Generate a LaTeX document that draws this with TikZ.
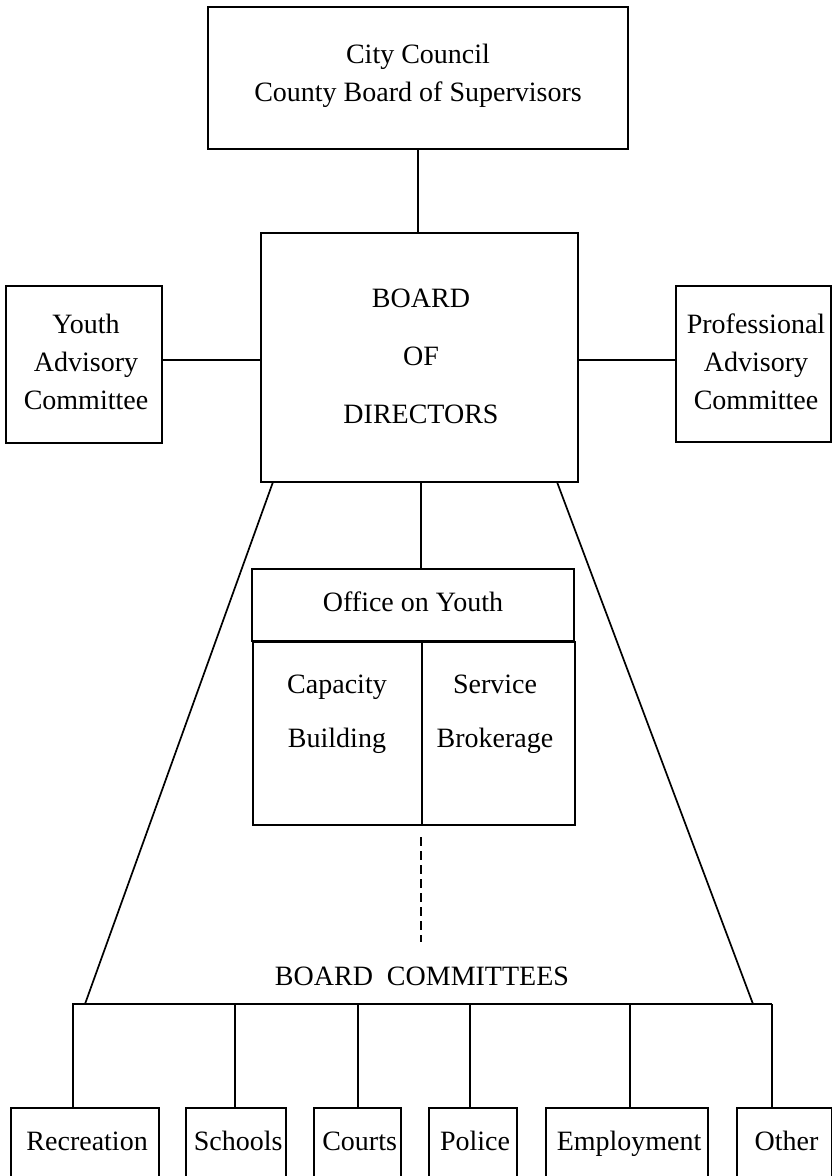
\documentclass[tikz,border=0pt]{standalone}
\usepackage{fontspec}
\setmainfont{Liberation Serif}
\usetikzlibrary{calc}
\begin{document}
\begin{tikzpicture}[x=1pt,y=-1pt,
  box/.style={draw, line width=2.2pt, rectangle, inner sep=0pt},
  txt/.style={inner sep=0pt, align=center, font=\fontsize{28}{38}\selectfont},
  conn/.style={line width=2.2pt},
  dconn/.style={line width=1.2pt, dash pattern=on 9pt off 5pt}]
\fill[white] (0,0) rectangle (832,1176);
\useasboundingbox (0,0) rectangle (832,1176);
\clip (0,0) rectangle (832,1176);

% top
\node[box, minimum width=420, minimum height=142] (top) at (418,78) {};
\node[txt] (toptxt) at (418,76) {City Council\\County Board of Supervisors};

% board
\node[box, minimum width=317, minimum height=249] (board) at (419.5,357.5) {};
\node[txt, font=\fontsize{28}{58}\selectfont] (boardtxt) at (421,356) {BOARD\\OF\\DIRECTORS};

% advisory
\node[box, minimum width=156, minimum height=157] (youth) at (84,364.5) {};
\node[txt] (youthtxt) at (86,362) {Youth\\Advisory\\Committee};
\node[box, minimum width=155, minimum height=156] (prof) at (753.5,364) {};
\node[txt] (proftxt) at (756,362) {Professional\\Advisory\\Committee};

\draw[conn] (youth.east |- 0,360) -- (board.west |- 0,360);
\draw[conn] (prof.west |- 0,360) -- (board.east |- 0,360);
\draw[conn] (top.south -| 418,0) -- (board.north -| 418,0);

% office
\node[box, minimum width=322, minimum height=72] (ohead) at (413,605) {};
\node[txt] (oheadtxt) at (413,602) {Office on Youth};
\node[box, minimum width=169, minimum height=183, anchor=north west] (cap) at (252,641) {};
\node[box, minimum width=153, minimum height=183, anchor=north west] (serv) at (421,641) {};
\node[txt, font=\fontsize{28}{54}\selectfont] (captxt) at (337,714) {Capacity\\Building};
\node[txt, font=\fontsize{28}{54}\selectfont] (servtxt) at (495,714) {Service\\Brokerage};
\draw[conn] (board.south -| 421,0) -- (ohead.north -| 421,0);

\coordinate (dtop) at (421,837);
\coordinate (dbot) at (421,942);
\draw[dconn] (dtop) -- (dbot);

\node[txt] (bc) at (422,976) {BOARD\enspace COMMITTEES};

% bus
\coordinate (busl) at (72,1004);
\coordinate (busr) at (772,1004);
\draw[conn] (busl) -- (busr);
\coordinate (bl) at (273,482);
\coordinate (br) at (557,482);
\coordinate (blb) at (85,1004);
\coordinate (brb) at (753,1004);
\draw[line width=1.7pt] (bl) -- (blb);
\draw[line width=1.7pt] (br) -- (brb);

% bottom boxes
\foreach \n/\x/\w/\lab/\cx in {rec/10/148/Recreation/73, sch/185/100/Schools/235, cou/313/87/Courts/358, pol/428/88/Police/470, emp/545/162/Employment/630, oth/736/95/Other/772}{
  \node[box, minimum width=\w, minimum height=120, anchor=north west] (\n) at (\x,1107) {};
  \node[txt, anchor=base] (\n t) at ($(\n.north)+(2,43)$) {\lab};
  \coordinate (\n c) at (\cx,1004);
  \draw[conn] (\n c) -- (\n c |- \n.north);
}
\end{tikzpicture}
\end{document}
